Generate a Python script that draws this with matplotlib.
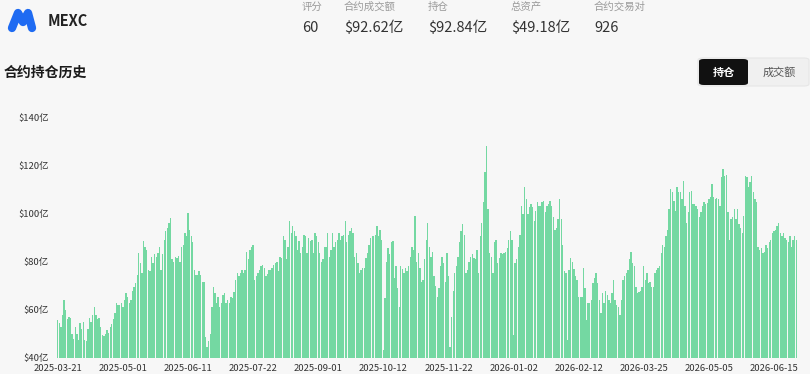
import datetime as dt
import matplotlib
matplotlib.use("Agg")
import matplotlib.pyplot as plt
from matplotlib.patches import FancyBboxPatch

plt.rcParams['font.family'] = ['Noto Sans CJK SC', 'DejaVu Sans']

# ---------------- data ----------------
start_date = "2025-03-21"
tick_step = 41

seg_a = [55.8, 54.5, 53, 58, 64, 60, 56, 57,
         56.5, 50, 48, 53, 50, 47.5, 54.5, 52,
         55, 47.5, 47, 52, 56.5, 55, 58, 61, 58,
         56, 56.5, 53, 49.5, 49, 50, 51.7, 50.5,
         53, 54, 56, 58.7, 63, 62, 62, 63, 61,
         64, 67, 65.5, 63, 64, 68, 69.5,
         71, 74.6, 83.7, 79.6, 75.4, 88.5, 86,
         85, 76.7, 76, 82, 79.6, 83, 82,
         83.7, 86, 76.7, 83, 89, 92.6, 94,
         96, 98, 81, 80, 82, 81.5, 82.5,
         80, 86, 87, 92, 90.5, 100, 93,
         90.5, 88, 76.7, 74.6, 74.6, 76,
         74.6, 71.7, 71.7, 48.7, 44.5, 47,
         50, 61, 69.6, 67, 63, 65.5,
         61, 63, 66, 67, 63, 64,
         63, 65.5, 65, 67.5, 72.5, 75.4,
         74, 75.4, 76.7, 75.4, 76.7,
         84, 81, 85, 86, 87, 72.5, 74,
         75.4, 76.7, 78, 78.7, 77.5, 74, 75,
         76.7]

seg_b = [76.7, 77.5, 78.7, 79.6, 80, 76, 82, 81.5, 90.5, 89,
         81, 86, 96.7, 92, 94.6, 92.6, 90.5, 85, 88.5, 83.7, 86,
         91, 90.5, 83.7, 90, 88.5, 89, 83.7, 92, 90.5, 88,
         83.7, 80, 81, 86, 86, 92, 82, 85, 92, 86, 88,
         89, 92, 89, 90.5, 91, 96.7, 88, 91, 92.6, 94,
         92, 82, 83.7, 79.6, 75.4, 76.7, 77.5, 77.5, 81.5, 83.7, 87,
         90, 90.5, 90.5, 91, 94.6, 90.5, 93.3, 89, 43.3, 65,
         80, 85.8, 83, 88, 88.5, 73.3, 78, 69, 61, 78, 77,
         75.4, 77.5, 76, 78, 82, 86, 85, 98.8, 80, 83.7,
         77.5, 71.7, 72.5, 81, 89, 96, 86, 82, 84, 74, 70,
         65.5, 69, 78, 82, 79.6, 71.7, 83.7, 74, 44.5, 57,
         68, 75.4, 78, 82, 88, 92.6, 95.4, 91, 75.4, 76.7, 80,
         82, 83, 81.5, 81, 85, 75.4, 90.5, 96, 104.6, 117,
         128, 101.7, 83.7, 82, 75.4, 88, 89, 79.6, 81.5, 83.7, 83,
         83.7, 84, 85.8, 89, 92.6, 89, 49.6, 79.6, 81, 86,
         91, 103, 99.6, 110.8, 105.8, 99.6, 102.5, 103.8, 102.5, 96.7, 101,
         104.6, 103, 103]

seg_c = [104.6, 105, 100.4, 103, 103.8, 105, 103, 98.3, 93.3, 94,
         97.5, 105.8, 97.5, 87, 76, 75.4, 47.5, 76.7, 81.5, 80, 77,
         74, 72.5, 65.5, 65.5, 65.5, 77.5, 69, 55.8, 63, 63,
         64, 71, 73.3, 75.4, 71, 64, 58.7, 67, 63, 68, 66,
         64, 63, 67, 72.5, 64, 62, 61, 58, 64, 72.5,
         74, 75.4, 76.7, 81, 84, 79.6, 78, 69.6, 67, 67.5, 68,
         69.6, 78, 72.5, 75.4, 71, 71.7, 69.6, 69.6, 75.4, 76.7,
         77.5, 78, 83.7, 87, 86, 90.5, 93.3, 101.7, 110, 108.7, 105,
         100.8, 110.8, 108.7, 108.7, 105.8, 113.3, 103, 96, 100.4, 108.7,
         109.2, 103.8, 103.8, 103, 101.7, 98.3, 100.4, 103, 104.6, 103.8, 104.5,
         105.8, 107, 112, 107, 105.8, 106.5, 105.8, 103, 115, 118.3,
         115.4, 116, 100.4, 89, 97.5, 98.3, 101.7, 97.5, 101.7, 95.4, 94,
         92, 98.8, 115.4, 115, 111, 113, 115.4, 108.7, 105.8, 104.6,
         86, 85, 85.8, 83.7, 84, 87, 85.8, 88, 89, 92, 92.5,
         93.3, 94.6, 96, 92, 90.5, 92, 90, 89, 88, 90.5,
         86, 89, 90.5, 89]

open_interest = seg_a + seg_b + seg_c

y_ticks = [40, 60, 80, 100, 120, 140]
y_labels = ["$40亿", "$60亿", "$80亿", "$100亿", "$120亿", "$140亿"]

stat_names = ["评分", "合约成交额", "持仓", "总资产", "合约交易对"]
stat_values = ["60", "$92.62亿", "$92.84亿", "$49.18亿", "926"]

# ---------------- figure ----------------
W, H = 810, 374
BG = "#f7f7f7"
fig = plt.figure(figsize=(W / 100, H / 100), dpi=100, facecolor=BG)


def fx(x):
    return x / W


def fy(y):
    return 1 - y / H


# Logo (stylised M)
fig.add_artist(plt.Line2D([fx(12), fx(18), fx(23), fx(28), fx(32)],
                          [fy(28), fy(13), fy(22), fy(13), fy(28)],
                          transform=fig.transFigure, color="#1f6bf2", lw=6,
                          solid_capstyle="round", solid_joinstyle="round"))
fig.text(fx(48), fy(21), "MEXC", fontsize=10.5, fontweight="bold",
         color="#222222", va="center", ha="left")

stat_x = [302, 344, 428, 511, 594]
for x, n, v in zip(stat_x, stat_names, stat_values):
    fig.text(fx(x), fy(7), n, fontsize=7.5, color="#9a9a9a", va="center", ha="left")
    fig.text(fx(x), fy(28), v, fontsize=10.5, color="#333333", va="center", ha="left")

fig.text(fx(4), fy(73), "合约持仓历史", fontsize=10, fontweight="bold",
         color="#1a1a1a", va="center", ha="left")

# Toggle buttons
fig.add_artist(FancyBboxPatch((fx(698), fy(86)), fx(111), (86 - 58) / H,
                              boxstyle="round,pad=0,rounding_size=0.006",
                              transform=fig.transFigure, facecolor="#f0f0f0",
                              edgecolor="#e6e6e6", lw=0.8))
fig.add_artist(FancyBboxPatch((fx(699), fy(85)), fx(49), (85 - 59) / H,
                              boxstyle="round,pad=0,rounding_size=0.006",
                              transform=fig.transFigure, facecolor="#111111",
                              edgecolor="none"))
fig.text(fx(723.5), fy(72), "持仓", fontsize=8, fontweight="bold", color="white",
         va="center", ha="center")
fig.text(fx(779), fy(72), "成交额", fontsize=8, color="#555555",
         va="center", ha="center")

# ---------------- chart ----------------
ax = fig.add_axes([fx(57), fy(358), fx(797 - 57), (358 - 117) / H])
ax.set_facecolor(BG)
n = len(open_interest)
xs = list(range(n))
ax.bar(xs, open_interest, width=0.86, color="#74d8a2", linewidth=0)
ax.set_xlim(-0.5, n - 0.5)
ax.set_ylim(40, 140)

d0 = dt.date.fromisoformat(start_date)
tick_pos = list(range(0, n, tick_step))
ax.set_xticks(tick_pos)
ax.set_xticklabels([(d0 + dt.timedelta(days=i)).isoformat() for i in tick_pos],
                   fontsize=6.8, color="#333333")
ax.set_yticks(y_ticks)
ax.set_yticklabels(y_labels, fontsize=6.8, color="#333333")
ax.tick_params(axis="both", length=0)
ax.tick_params(axis="y", pad=6)
ax.tick_params(axis="x", pad=4.5)
for s in ax.spines.values():
    s.set_visible(False)

fig.savefig("out.png", dpi=100, facecolor=BG)
